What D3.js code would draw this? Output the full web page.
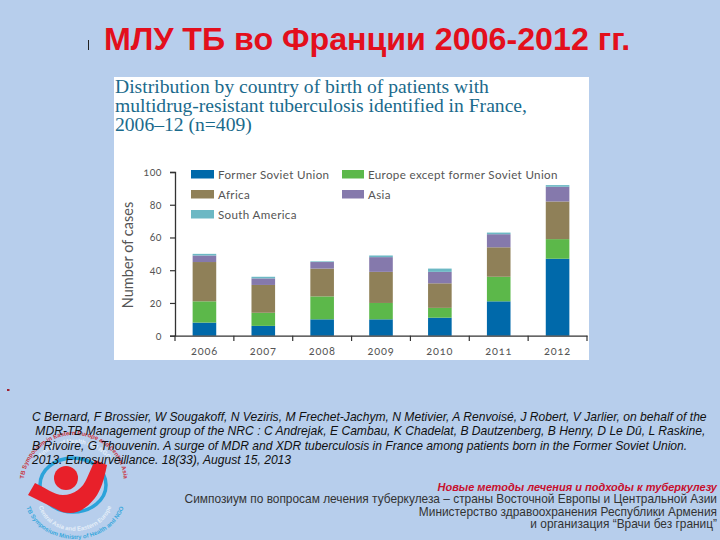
<!DOCTYPE html>
<html>
<head>
<meta charset="utf-8">
<script src="https://cdn.jsdelivr.net/npm/d3@7"></script>
<style>
  html, body { margin: 0; padding: 0; background: #b7ceec; }
  svg { display: block; }
</style>
</head>
<body>
<svg id="slide"></svg>
<script>
// chart values
var years = ["2006", "2007", "2008", "2009", "2010", "2011", "2012"];
var regions = ["Former Soviet Union", "Europe except former Soviet Union", "Africa", "Asia", "South America"];
var fsu = [8, 6, 10, 10, 11, 21, 47];
var europe = [13, 8, 14, 10, 6, 15, 12];
var africa = [24, 17, 17, 19, 15, 18, 23];
var asia = [4, 4, 4, 9, 7, 8, 9];
var southAmerica = [1, 1, 0.4, 1, 2, 1, 1];
var yTicks = [0, 20, 40, 60, 80, 100];
var regionColors = ["#0069aa", "#5cb84a", "#8f8058", "#8579ac", "#6cb8c4"];

var slideTitle = "МЛУ ТБ во Франции 2006-2012 гг.";
var chartTitle = ["Distribution by country of birth of patients with",
  "multidrug-resistant tuberculosis identified in France,",
  "2006–12 (n=409)"];
var citation = ["C Bernard, F Brossier, W Sougakoff, N Veziris, M Frechet-Jachym, N Metivier, A Renvoisé, J Robert, V Jarlier, on behalf of the",
  " MDR-TB Management group of the NRC : C Andrejak, E Cambau, K Chadelat, B Dautzenberg, B Henry, D Le Dû, L Raskine,",
  "B Rivoire, G Thouvenin. A surge of MDR and XDR tuberculosis in France among patients born in the Former Soviet Union.",
  "2013. Eurosurveillance. 18(33), August 15, 2013"];
var footer = ["Новые методы лечения и подходы к туберкулезу",
  "Симпозиум по вопросам лечения туберкулеза – страны Восточной Европы и Центральной Азии",
  "Министерство здравоохранения Республики Армения",
  "и организация “Врачи без границ”"];
var footerY = [491, 503, 516, 528];
var footerSize = [11, 11.9, 11.9, 11.9];

var width = 720, height = 540;
var svg = d3.select("svg#slide").attr("width", width).attr("height", height);

svg.append("rect").attr("width", width).attr("height", height).attr("fill", "#b7ceec");

// logo goes under the citation text
function draw_logo(){
  var g = svg.append("g");
  var defs = svg.append("defs");
  defs.append("path").attr("id", "logoTop").attr("d", "M24,482 A49,46 0 0 1 124,482");
  defs.append("path").attr("id", "logoTopInner").attr("d", "M32,482 A41,38 0 0 1 116,482");
  defs.append("path").attr("id", "logoBottom").attr("d", "M24,494 A51,45 0 0 0 126,494");
  defs.append("path").attr("id", "logoBottomInner").attr("d", "M38,500 A36,30 0 0 0 112,500");

  g.append("ellipse").attr("cx", 73).attr("cy", 485).attr("rx", 33).attr("ry", 27)
    .attr("fill", "none").attr("stroke", "#2ba3da").attr("stroke-width", 3.5);
  g.append("circle").attr("cx", 66).attr("cy", 478).attr("r", 12).attr("fill", "#e8202a");
  g.append("path")
    .attr("d", "M28,495 L35,483 C44,487 54,495 63,495 C74,495 83,488 87,478 L95,460 L107,465 C104,480 101,490 95,498 C87,508 79,513 70,513 C65,513 61,512 58,510 Z")
    .attr("fill", "#e8202a");

  function arc_text(id, color, label){
    g.append("text").attr("font-family", "Liberation Sans").attr("font-size", 6)
      .attr("font-weight", "bold").attr("fill", color)
      .append("textPath").attr("href", "#" + id).attr("startOffset", "50%")
      .attr("text-anchor", "middle").text(label);
  }
  arc_text("logoTop", "#c8343c", "TB Symposium in Eastern Europe and Central Asia");
  arc_text("logoTopInner", "#e6eef8", "Ministry of Health and NGO");
  arc_text("logoBottom", "#3aa8dc", "TB Symposium Ministry of Health and NGO");
  arc_text("logoBottomInner", "#e6eef8", "Central Asia and Eastern Europe");
}

function draw_texts(){
  svg.append("text").attr("x", 104).attr("y", 50)
    .attr("font-family", "Liberation Sans").attr("font-weight", "bold")
    .attr("font-size", 32.2).attr("fill", "#e30f1c").text(slideTitle);
  svg.append("rect").attr("x", 88).attr("y", 40).attr("width", 1).attr("height", 10).attr("fill", "#222");
  svg.append("rect").attr("x", 7).attr("y", 389).attr("width", 2.5).attr("height", 2).attr("fill", "#a02030");

  svg.selectAll("text.citation").data(citation).enter().append("text")
    .attr("class", "citation")
    .attr("x", 32)
    .attr("y", function(d, i){ return 421 + i * 14.4; })
    .style("white-space", "pre")
    .attr("font-family", "Liberation Sans").attr("font-style", "italic")
    .attr("font-size", 12.1).attr("fill", "#111")
    .text(function(d){ return d; });

  svg.selectAll("text.footer").data(footer).enter().append("text")
    .attr("class", "footer")
    .attr("x", 717)
    .attr("y", function(d, i){ return footerY[i]; })
    .attr("text-anchor", "end")
    .attr("font-family", "Liberation Sans")
    .attr("font-size", function(d, i){ return footerSize[i]; })
    .attr("font-weight", function(d, i){ return i == 0 ? "bold" : "normal"; })
    .attr("font-style", function(d, i){ return i == 0 ? "italic" : "normal"; })
    .attr("fill", function(d, i){ return i == 0 ? "#c8102e" : "#333"; })
    .text(function(d){ return d; });
}

function draw_chart(){
  svg.append("rect").attr("x", 114).attr("y", 77).attr("width", 475).attr("height", 283).attr("fill", "#fff");

  svg.selectAll("text.chartTitle").data(chartTitle).enter().append("text")
    .attr("class", "chartTitle")
    .attr("x", 115)
    .attr("y", function(d, i){ return 93 + i * 19; })
    .attr("font-family", "Liberation Serif")
    .attr("font-size", 19.6)
    .attr("fill", "#1a6a8c")
    .text(function(d){ return d; });

  var x = d3.scaleBand().domain(years).range([175, 587]);
  var y = d3.scaleLinear().domain([0, 100]).range([335.7, 172]);

  var rows = years.map(function(year, i){
    return { year: year, fsu: fsu[i], europe: europe[i], africa: africa[i], asia: asia[i], southAmerica: southAmerica[i] };
  });
  var keys = ["fsu", "europe", "africa", "asia", "southAmerica"];
  var stacked = d3.stack().keys(keys)(rows);

  svg.append("g").selectAll("g").data(stacked).enter().append("g")
    .attr("fill", function(d, i){ return regionColors[i]; })
    .selectAll("rect").data(function(d){ return d; }).enter().append("rect")
      .attr("x", function(d){ return x(d.data.year) + x.bandwidth() / 2 - 11.8; })
      .attr("width", 23.6)
      .attr("y", function(d){ return y(d[1]); })
      .attr("height", function(d){ return y(d[0]) - y(d[1]); });

  // axes
  var yAxis = d3.axisLeft(y).tickValues(yTicks).tickSize(5).tickPadding(8);
  var yG = svg.append("g").attr("transform", "translate(175,0)").call(yAxis);
  yG.select(".domain").attr("stroke", "#333").attr("stroke-width", 1.3);
  yG.selectAll(".tick line").attr("stroke", "#333").attr("stroke-width", 1.2);
  yG.selectAll("text").attr("font-family", "Lato").attr("font-size", 10.5)
    .attr("letter-spacing", 0.5).style("font-feature-settings", "'onum'").attr("fill", "#555");

  var xAxis = d3.axisBottom(x).tickSize(0).tickPadding(12);
  var xG = svg.append("g").attr("transform", "translate(0,335.7)").call(xAxis);
  xG.select(".domain").attr("stroke", "#333").attr("stroke-width", 1.3);
  xG.selectAll("text").attr("font-family", "Lato").attr("font-size", 11)
    .attr("letter-spacing", 0.8).style("font-feature-settings", "'onum'").attr("fill", "#555");

  // ticks sit between the years, not on the band centres
  svg.append("g").selectAll("line").data(years.concat(["end"])).enter().append("line")
    .attr("x1", function(d, i){ return x.range()[0] + i * x.step(); })
    .attr("x2", function(d, i){ return x.range()[0] + i * x.step(); })
    .attr("y1", 335.7).attr("y2", 341)
    .attr("stroke", "#333").attr("stroke-width", 1.2);

  svg.append("text")
    .attr("transform", "translate(133,255) rotate(-90)")
    .attr("text-anchor", "middle")
    .attr("font-family", "Lato").attr("font-size", 14.5).attr("fill", "#555")
    .text("Number of cases");

  // legend
  var legendX = [191, 342, 191, 342, 191];
  var legendY = [170, 170, 190, 190, 210];
  var legend = svg.append("g").selectAll("g").data(regions).enter().append("g")
    .attr("transform", function(d, i){ return "translate(" + legendX[i] + "," + legendY[i] + ")"; });
  legend.append("rect")
    .attr("width", function(d, i){ return i % 2 ? 22 : 23; })
    .attr("height", 8.5)
    .attr("fill", function(d, i){ return regionColors[i]; });
  legend.append("text")
    .attr("x", function(d, i){ return i % 2 ? 26 : 27; })
    .attr("y", 9)
    .attr("font-family", "Lato").attr("font-size", 11.6).attr("letter-spacing", 0.35).attr("fill", "#555")
    .text(function(d){ return d; });
}

draw_logo();
draw_chart();
draw_texts();
</script>
</body>
</html>
